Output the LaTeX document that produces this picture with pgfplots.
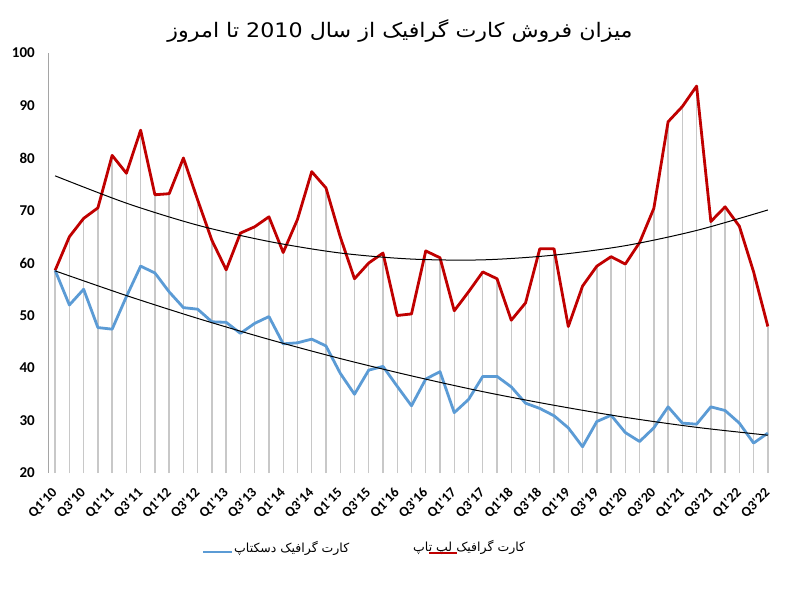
\documentclass[border=0pt]{standalone}
\usepackage{fontspec}
\setmainfont{Carlito}
\newfontfamily\arabicfont[Script=Arabic]{DejaVu Sans}
\TeXXeTstate=1
\usepackage{pgfplots}
\pgfplotsset{compat=1.18}
\usepackage{pgfplotstable}
\definecolor{lapred}{RGB}{192,0,0}
\definecolor{deskblue}{RGB}{91,155,213}
\definecolor{drop}{RGB}{200,200,200}
\definecolor{axgray}{RGB}{165,165,165}
\newcommand\q{\textquotesingle}
\pgfplotstableread{
i red blue
0 58.6 58.6
1 65.0 52.0
2 68.5 55.0
3 70.5 47.7
4 80.5 47.4
5 77.1 53.6
6 85.3 59.4
7 73.0 58.1
8 73.2 54.5
9 80.0 51.5
10 72.0 51.2
11 64.3 48.8
12 58.7 48.7
13 65.7 46.6
14 66.9 48.5
15 68.8 49.8
16 62.0 44.6
17 68.3 44.8
18 77.4 45.5
19 74.3 44.2
20 65.0 39.0
21 57.0 35.0
22 60.0 39.6
23 61.9 40.3
24 50.0 36.5
25 50.3 32.8
26 62.3 37.9
27 61.0 39.3
28 50.9 31.5
29 54.5 34.0
30 58.3 38.4
31 57.0 38.4
32 49.1 36.4
33 52.4 33.3
34 62.7 32.3
35 62.7 30.9
36 47.9 28.6
37 55.6 25.0
38 59.4 29.8
39 61.2 31.0
40 59.8 27.7
41 63.9 26.0
42 70.4 28.6
43 86.9 32.6
44 89.8 29.5
45 93.7 29.3
46 67.9 32.6
47 70.7 31.9
48 67.0 29.5
49 58.3 25.7
50 47.9 27.6
}\data
\begin{document}
\begin{tikzpicture}[x=1pt,y=1pt]
\path[fill=white] (0,0) rectangle (800,600);
\begin{axis}[
  at={(48pt,127pt)}, anchor=south west, scale only axis,
  width=727pt, height=420pt,
  xmin=-0.5, xmax=50.5, ymin=20, ymax=100,
  axis line style={draw=none},
  major tick length=0pt,
  xtick={0,2,...,50},
  xticklabels={Q1\q10,Q3\q10,Q1\q11,Q3\q11,Q1\q12,Q3\q12,Q1\q13,Q3\q13,Q1\q14,Q3\q14,Q1\q15,Q3\q15,Q1\q16,Q3\q16,Q1\q17,Q3\q17,Q1\q18,Q3\q18,Q1\q19,Q3\q19,Q1\q20,Q3\q20,Q1\q21,Q3\q21,Q1\q22,Q3\q22},
  ytick={20,30,...,100},
  /pgf/number format/assume math mode=true,
  yticklabel style={font=\fontsize{15}{15}\selectfont\bfseries, inner sep=0pt, anchor=east, xshift=-13pt},
  xticklabel style={font=\fontsize{14}{14}\selectfont\bfseries, inner sep=0pt, rotate=45, anchor=east, xshift=-12.7pt, yshift=-12.7pt},
]
\draw[axgray, line width=2pt] (axis cs:-0.5,20) -- (axis cs:-0.5,100);
\addplot[ycomb, draw=drop, line width=1.4pt, forget plot] table[x=i,y=red] {\data};
\addplot[lapred, line width=2.8pt, line join=round] table[x=i,y=red] {\data};
\addplot[deskblue, line width=2.8pt, line join=round] table[x=i,y=blue] {\data};
\addplot[black, line width=1pt, smooth] coordinates {(0,76.6) (5,71.4) (10,67.2) (15,64.1) (20,61.9) (25,60.75) (30,60.6) (35,61.5) (40,63.3) (45,66.2) (50,70.1)};
\addplot[black, line width=1pt, smooth] coordinates {(0,58.5) (5,53.8) (10,49.45) (15,45.45) (20,41.8) (25,38.5) (30,35.5) (35,32.9) (40,30.6) (45,28.7) (50,27.2)};
\end{axis}
\node[xscale=1.11] at (400,569) {\arabicfont\fontsize{20}{20}\selectfont\beginR میزان فروش کارت گرافیک از سال \beginL 2010\endL{} تا امروز\endR};
\draw[deskblue, line width=2.6pt] (203,48) -- (232,48);
\node[anchor=west, inner sep=0pt] at (234,52) {\arabicfont\fontsize{12.5}{12.5}\selectfont\beginR کارت گرافیک دسکتاپ\endR};
\node[anchor=west, inner sep=0pt] at (413,53) {\arabicfont\fontsize{12.5}{12.5}\selectfont\beginR کارت گرافیک لپ تاپ\endR};
\draw[lapred, line width=2.6pt] (429,47) -- (457,47);
\end{tikzpicture}
\end{document}
